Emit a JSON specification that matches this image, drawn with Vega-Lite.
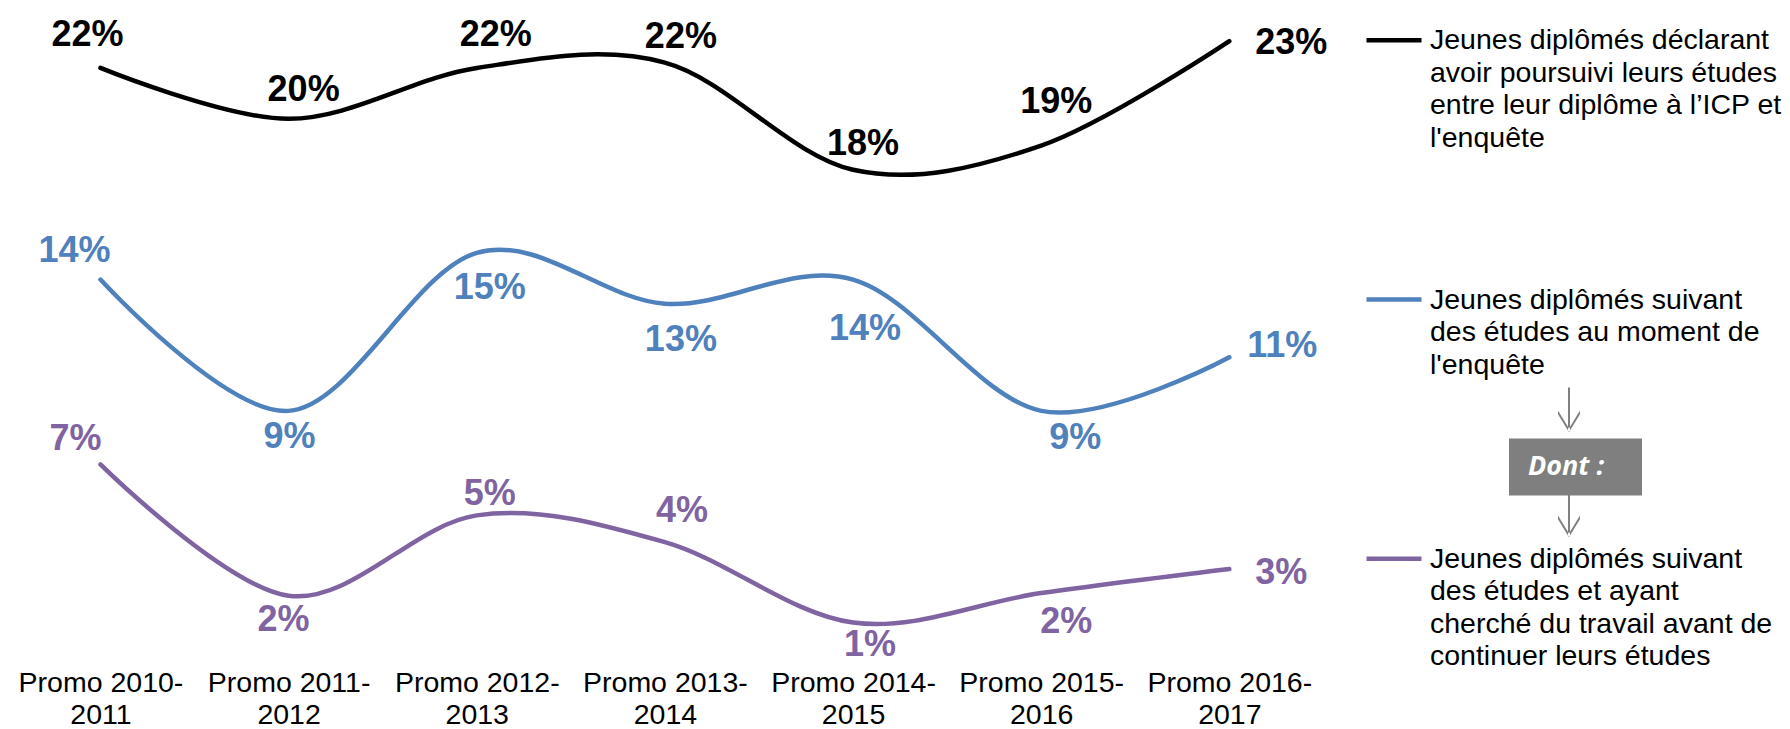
{
  "$schema": "https://vega.github.io/schema/vega-lite/v6.json",
  "width": 1317,
  "height": 643,
  "autosize": "none",
  "padding": {"left": 6.4, "top": 9, "right": 466.6, "bottom": 77},
  "background": "#ffffff",
  "datasets": {
    "taux": [
      {"promo": "2010-2011", "serie": "Jeunes diplômés déclarant avoir poursuivi leurs études entre leur diplôme à l’ICP et l'enquête", "valeur": 0.218},
      {"promo": "2011-2012", "serie": "Jeunes diplômés déclarant avoir poursuivi leurs études entre leur diplôme à l’ICP et l'enquête", "valeur": 0.199},
      {"promo": "2012-2013", "serie": "Jeunes diplômés déclarant avoir poursuivi leurs études entre leur diplôme à l’ICP et l'enquête", "valeur": 0.218},
      {"promo": "2013-2014", "serie": "Jeunes diplômés déclarant avoir poursuivi leurs études entre leur diplôme à l’ICP et l'enquête", "valeur": 0.22},
      {"promo": "2014-2015", "serie": "Jeunes diplômés déclarant avoir poursuivi leurs études entre leur diplôme à l’ICP et l'enquête", "valeur": 0.18},
      {"promo": "2015-2016", "serie": "Jeunes diplômés déclarant avoir poursuivi leurs études entre leur diplôme à l’ICP et l'enquête", "valeur": 0.189},
      {"promo": "2016-2017", "serie": "Jeunes diplômés déclarant avoir poursuivi leurs études entre leur diplôme à l’ICP et l'enquête", "valeur": 0.228},
      {"promo": "2010-2011", "serie": "Jeunes diplômés suivant des études au moment de l'enquête", "valeur": 0.139},
      {"promo": "2011-2012", "serie": "Jeunes diplômés suivant des études au moment de l'enquête", "valeur": 0.09},
      {"promo": "2012-2013", "serie": "Jeunes diplômés suivant des études au moment de l'enquête", "valeur": 0.149},
      {"promo": "2013-2014", "serie": "Jeunes diplômés suivant des études au moment de l'enquête", "valeur": 0.13},
      {"promo": "2014-2015", "serie": "Jeunes diplômés suivant des études au moment de l'enquête", "valeur": 0.139},
      {"promo": "2015-2016", "serie": "Jeunes diplômés suivant des études au moment de l'enquête", "valeur": 0.09},
      {"promo": "2016-2017", "serie": "Jeunes diplômés suivant des études au moment de l'enquête", "valeur": 0.11},
      {"promo": "2010-2011", "serie": "Jeunes diplômés suivant des études et ayant cherché du travail avant de continuer leurs études", "valeur": 0.07},
      {"promo": "2011-2012", "serie": "Jeunes diplômés suivant des études et ayant cherché du travail avant de continuer leurs études", "valeur": 0.021},
      {"promo": "2012-2013", "serie": "Jeunes diplômés suivant des études et ayant cherché du travail avant de continuer leurs études", "valeur": 0.051},
      {"promo": "2013-2014", "serie": "Jeunes diplômés suivant des études et ayant cherché du travail avant de continuer leurs études", "valeur": 0.041},
      {"promo": "2014-2015", "serie": "Jeunes diplômés suivant des études et ayant cherché du travail avant de continuer leurs études", "valeur": 0.011},
      {"promo": "2015-2016", "serie": "Jeunes diplômés suivant des études et ayant cherché du travail avant de continuer leurs études", "valeur": 0.022},
      {"promo": "2016-2017", "serie": "Jeunes diplômés suivant des études et ayant cherché du travail avant de continuer leurs études", "valeur": 0.031}
    ]
  },
  "data": {"name": "taux"},
  "encoding": {
    "x": {
      "field": "promo",
      "type": "ordinal",
      "scale": {"type": "point", "padding": 0.5},
      "axis": {
        "title": null,
        "labelAngle": 0,
        "domain": false,
        "ticks": false,
        "tickSize": 0,
        "grid": false,
        "labelPadding": 16.5,
        "labelFont": "Liberation Sans",
        "labelFontSize": 28.5,
        "labelColor": "#000000",
        "labelLineHeight": 32,
        "labelLimit": 400,
        "labelOverlap": false,
        "labelExpr": "['Promo ' + split(datum.label, '-')[0] + '-', split(datum.label, '-')[1]]"
      }
    },
    "y": {
      "field": "valeur",
      "type": "quantitative",
      "scale": {"domain": [0, 0.24], "nice": false, "zero": true},
      "axis": null
    }
  },
  "layer": [
    {
      "mark": {"type": "line", "interpolate": "cardinal", "strokeWidth": 4.5, "strokeCap": "round", "strokeJoin": "round"},
      "encoding": {
        "color": {
          "field": "serie",
          "type": "nominal",
          "scale": {
            "domain": [
              "Jeunes diplômés déclarant avoir poursuivi leurs études entre leur diplôme à l’ICP et l'enquête",
              "Jeunes diplômés suivant des études au moment de l'enquête",
              "Jeunes diplômés suivant des études et ayant cherché du travail avant de continuer leurs études"
            ],
            "range": ["#000000", "#4f81bd", "#8064a2"]
          },
          "legend": {
            "orient": "none",
            "legendX": 1357.6,
            "legendY": 1.2,
            "title": null,
            "padding": 0,
            "symbolType": "stroke",
            "symbolSize": 3025,
            "symbolStrokeWidth": 4.5,
            "labelFont": "Liberation Sans",
            "labelFontSize": 28.5,
            "labelColor": "#000000",
            "labelBaseline": "middle",
            "labelOffset": 6,
            "labelLimit": 600,
            "rowPadding": 117.3,
            "labelExpr": "indexof(datum.value, 'déclarant') >= 0 ? ['Jeunes diplômés déclarant', 'avoir poursuivi leurs études', 'entre leur diplôme à l’ICP et', \"l'enquête\"] : indexof(datum.value, 'moment') >= 0 ? ['Jeunes diplômés suivant', 'des études au moment de', \"l'enquête\", ''] : ['Jeunes diplômés suivant', 'des études et ayant', 'cherché du travail avant de', 'continuer leurs études']"
          }
        }
      }
    },
    {
      "transform": [{"filter": {"field": "serie", "equal": "Jeunes diplômés déclarant avoir poursuivi leurs études entre leur diplôme à l’ICP et l'enquête"}}],
      "mark": {
        "type": "text", "font": "Liberation Sans", "fontSize": 36, "fontWeight": "bold", "color": "#000000",
        "align": "center", "baseline": "middle",
        "dx": {"expr": "[-13, 15, 19, 16, 10, 15, 62][toNumber(slice(datum.promo, 0, 4)) - 2010]"},
        "dy": {"expr": "[-33, -29, -33, -26, -26, -44, 2][toNumber(slice(datum.promo, 0, 4)) - 2010]"}
      },
      "encoding": {"text": {"field": "valeur", "type": "quantitative", "format": ".0%"}}
    },
    {
      "transform": [{"filter": {"field": "serie", "equal": "Jeunes diplômés suivant des études au moment de l'enquête"}}],
      "mark": {
        "type": "text", "font": "Liberation Sans", "fontSize": 36, "fontWeight": "bold", "color": "#4f81bd",
        "align": "center", "baseline": "middle",
        "dx": {"expr": "[-26, 1, 13, 16, 12, 34, 53][toNumber(slice(datum.promo, 0, 4)) - 2010]"},
        "dy": {"expr": "[-29, 26, 35, 36, 49, 27, -11][toNumber(slice(datum.promo, 0, 4)) - 2010]"}
      },
      "encoding": {"text": {"field": "valeur", "type": "quantitative", "format": ".0%"}}
    },
    {
      "transform": [{"filter": {"field": "serie", "equal": "Jeunes diplômés suivant des études et ayant cherché du travail avant de continuer leurs études"}}],
      "mark": {
        "type": "text", "font": "Liberation Sans", "fontSize": 36, "fontWeight": "bold", "color": "#8064a2",
        "align": "center", "baseline": "middle",
        "dx": {"expr": "[-25, -5, 13, 17, 17, 25, 52][toNumber(slice(datum.promo, 0, 4)) - 2010]"},
        "dy": {"expr": "[-25, 24, -21, -31, 22, 29, 4][toNumber(slice(datum.promo, 0, 4)) - 2010]"}
      },
      "encoding": {"text": {"field": "valeur", "type": "quantitative", "format": ".0%"}}
    },
    {
      "transform": [{"filter": "false"}],
      "mark": {"type": "point", "filled": true, "color": "#7f7f7f"},
      "encoding": {
        "shape": {
          "datum": "Dont :",
          "scale": {"range": ["M-1,-0.429H1V0.429H-1Z M-0.113,-1.195H-0.083V-0.53H-0.113Z M-0.263,-0.794L-0.098,-0.523L0.067,-0.794L0.067,-0.851L-0.098,-0.58L-0.263,-0.851Z M-0.113,0.429H-0.083V1.05H-0.113Z M-0.263,0.785L-0.098,1.056L0.067,0.785L0.067,0.728L-0.098,0.999L-0.263,0.728Z"]},
          "legend": {
            "orient": "none",
            "legendX": 1502.6,
            "legendY": 391.5,
            "title": null,
            "padding": 0,
            "symbolSize": 17689,
            "symbolFillColor": "#7f7f7f",
            "symbolStrokeColor": "#7f7f7f",
            "symbolStrokeWidth": 0,
            "symbolOpacity": 1,
            "labelFont": "Open Sans",
            "labelFontSize": 27,
            "labelFontWeight": "bold",
            "labelFontStyle": "italic",
            "labelColor": "#ffffff",
            "labelBaseline": "middle",
            "labelOffset": -114
          }
        }
      }
    }
  ],
  "config": {
    "view": {"stroke": null},
    "font": "Liberation Sans",
    "style": {"guide-label": {"lineHeight": 32.5}}
  }
}
